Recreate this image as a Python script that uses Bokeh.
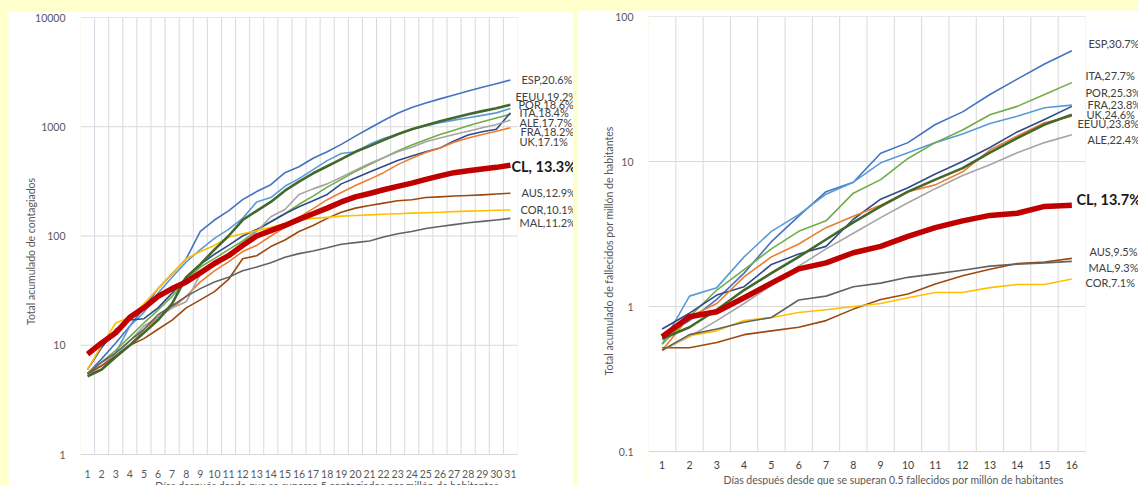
import math
from bokeh.plotting import figure
from bokeh.layouts import row
from bokeh.models import Range1d, FixedTicker, CustomJSTickFormatter, Label, BoxAnnotation
from bokeh.embed import file_html
from bokeh.resources import INLINE

# ---------------- data: contagiados (left) ----------------
days_c = list(range(1, 32))
esp_c = [5.5, 7.5, 10.5, 15, 22, 33, 45, 62, 110, 140, 170, 215, 255, 295, 380, 430, 515, 590, 690, 820, 970, 1140, 1330, 1500, 1650, 1800, 1950, 2120, 2300, 2480, 2680]
eeuu_c = [5.2, 6.0, 7.8, 10, 13, 17, 24, 42, 55, 75, 100, 140, 170, 205, 260, 315, 375, 435, 505, 590, 665, 755, 855, 950, 1030, 1120, 1210, 1300, 1390, 1480, 1590]
por_c = [5.5, 6.0, 8.5, 15, 20, 30, 42, 58, 75, 95, 115, 145, 205, 225, 285, 335, 405, 490, 570, 590, 690, 780, 860, 950, 1020, 1090, 1150, 1210, 1270, 1340, 1470]
ita_c = [5.5, 7, 9, 12, 16, 21, 28, 40, 52, 62, 75, 90, 112, 135, 160, 195, 232, 280, 330, 390, 450, 520, 600, 680, 760, 850, 930, 1020, 1110, 1200, 1300]
uk_c = [6, 9.5, 14, 17, 17.5, 22, 30, 42, 55, 68, 82, 100, 115, 135, 160, 185, 210, 240, 300, 340, 385, 435, 490, 540, 590, 640, 740, 840, 900, 950, 1340]
fra_c = [5.5, 6.5, 8, 10, 14, 18, 22, 28, 38, 48, 58, 72, 82, 100, 120, 148, 178, 215, 250, 290, 330, 380, 450, 515, 580, 640, 720, 790, 850, 910, 980]
ale_c = [5.5, 7, 8, 11, 15, 18, 22, 25, 45, 55, 68, 85, 110, 150, 175, 240, 270, 300, 345, 400, 460, 520, 590, 650, 730, 790, 850, 910, 980, 1050, 1150]
cl_c = [8.3, 10.5, 13, 18, 22, 28, 33, 38, 46, 56, 66, 82, 100, 112, 125, 142, 160, 180, 205, 228, 245, 265, 285, 305, 330, 355, 380, 395, 410, 425, 445]
aus_c = [5.5, 6.5, 8, 10, 11.5, 14, 17, 22, 26, 31, 40, 62, 66, 80, 92, 110, 125, 145, 165, 180, 190, 200, 210, 215, 225, 228, 232, 235, 238, 242, 246]
cor_c = [6, 10, 16, 18, 24, 33, 45, 62, 72, 82, 98, 105, 112, 120, 130, 140, 145, 148, 152, 154, 156, 158, 160, 162, 163, 165, 167, 169, 170, 172, 173]
mal_c = [5.5, 7, 8.5, 11, 14, 19, 23, 28, 33, 38, 42, 48, 52, 57, 64, 69, 73, 78, 84, 87, 90, 98, 105, 110, 117, 122, 127, 132, 136, 140, 145]
labels_c = ["ESP,20.6%", "EEUU,19.2%", "POR,18.6%", "ITA,18.4%", "ALE,17.7%", "FRA,18.2%", "UK,17.1%", "CL, 13.3%", "AUS,12.9%", "COR,10.1%", "MAL,11.2%"]
yticks_c = [1, 10, 100, 1000, 10000]

# ---------------- data: fallecidos (right) ----------------
days_f = list(range(1, 17))
esp_f = [0.62, 0.8, 1.12, 1.7, 2.8, 4.2, 6.2, 7.2, 11.4, 13.5, 18, 22, 29, 37, 47, 58]
por_f = [0.55, 1.18, 1.35, 2.2, 3.3, 4.3, 5.95, 7.2, 9.8, 11.5, 13.5, 15.5, 18.3, 20.5, 23.5, 24.5]
ita_f = [0.55, 0.85, 1.3, 1.8, 2.5, 3.3, 3.9, 6.05, 7.5, 10.5, 13.5, 16.5, 21, 24, 29, 35]
uk_f = [0.7, 0.9, 1.2, 1.37, 1.95, 2.3, 2.6, 4.0, 5.5, 6.6, 8.2, 10, 12.5, 16, 19.5, 24]
fra_f = [0.5, 0.85, 1.05, 1.6, 2.2, 2.7, 3.5, 4.2, 5.0, 6.2, 6.9, 8.5, 12, 15, 18.5, 20.5]
eeuu_f = [0.6, 0.72, 0.95, 1.3, 1.7, 2.2, 2.9, 3.8, 4.9, 6.2, 7.5, 9, 11.5, 14.5, 18, 21]
ale_f = [0.5, 0.62, 0.8, 1.05, 1.4, 1.9, 2.5, 3.2, 4.1, 5.2, 6.5, 8, 9.5, 11.5, 13.5, 15.3]
cl_f = [0.62, 0.85, 0.92, 1.15, 1.45, 1.82, 2.0, 2.35, 2.6, 3.05, 3.5, 3.9, 4.25, 4.4, 4.9, 5.0]
aus_f = [0.52, 0.52, 0.565, 0.64, 0.68, 0.72, 0.8, 0.96, 1.12, 1.22, 1.43, 1.63, 1.81, 1.98, 2.03, 2.15]
mal_f = [0.5, 0.64, 0.70, 0.78, 0.84, 1.11, 1.18, 1.37, 1.45, 1.59, 1.68, 1.78, 1.9, 1.96, 2.0, 2.05]
cor_f = [0.5, 0.63, 0.68, 0.80, 0.84, 0.91, 0.95, 1.0, 1.05, 1.15, 1.25, 1.25, 1.35, 1.42, 1.42, 1.55]
labels_f = ["ESP,30.7%", "ITA,27.7%", "POR,25.3%", "FRA,23.8%", "UK,24.6%", "EEUU,23.8%", "ALE,22.4%", "CL, 13.7%", "AUS,9.5%", "MAL,9.3%", "COR,7.1%"]
yticks_f = [0.1, 1, 10, 100]

# ---------------- styles ----------------
FONT = "Lato"
COL = {"ESP": "#4472C4", "EEUU": "#43682B", "POR": "#5B9BD5", "ITA": "#70AD47", "UK": "#2F4B8C",
       "FRA": "#ED7D31", "ALE": "#A5A5A5", "CL": "#C00000", "AUS": "#9E480E", "COR": "#FFC000", "MAL": "#636363"}
WID = {"EEUU": 2.6, "CL": 5.5}
ORDER = ["ESP", "POR", "ITA", "UK", "FRA", "ALE", "AUS", "COR", "MAL", "EEUU", "CL"]
GRID = "#D9D9D9"

series_c = {"ESP": esp_c, "EEUU": eeuu_c, "POR": por_c, "ITA": ita_c, "UK": uk_c, "FRA": fra_c,
            "ALE": ale_c, "CL": cl_c, "AUS": aus_c, "COR": cor_c, "MAL": mal_c}
series_f = {"ESP": esp_f, "EEUU": eeuu_f, "POR": por_f, "ITA": ita_f, "UK": uk_f, "FRA": fra_f,
            "ALE": ale_f, "CL": cl_f, "AUS": aus_f, "COR": cor_f, "MAL": mal_f}

# label placement (data y, pixel x offset from plot-area right edge)
lab_pos_c = [(2718, 4), (1911, -2), (1606, 1), (1356, 2), (1105, 2), (901, 3), (730, 2), (437, -6), (249, 4), (173, 3), (133, 2)]
lab_pos_f = [(65.5, 3), (39.4, 0), (29.8, 0), (24.6, 2), (21.1, 1), (18.2, -8), (14.2, 2), (5.47, -9), (2.41, 4), (1.87, 3), (1.47, 0)]


def make(days, series, labels, lab_pos, yticks, ylo, yhi, ytitle, xtitle, w, h,
         left, top, bottom, area_w, margin, xlab_std, xtitle_std, ytitle_std, xlab_color):
    n = len(days)
    unit = area_w / n                       # pixels per category
    area_h = h - top - bottom
    x0 = days[0] - 0.5
    x_area_end = days[-1] + 0.5
    # the frame reaches the figure's right and bottom edges, leaving room for the labels
    x_end = x0 + (w - left) / unit
    y_start = ylo * 10 ** (-bottom * math.log10(yhi / ylo) / area_h)
    p = figure(width=w, height=h, output_backend="svg", toolbar_location=None,
               x_range=Range1d(x0, x_end), y_range=Range1d(y_start, yhi),
               y_axis_type="log", min_border_left=left, min_border_right=0,
               min_border_top=top, min_border_bottom=0)
    p.margin = margin
    p.background_fill_color = "white"
    p.border_fill_color = "white"
    p.outline_line_color = None

    p.xaxis.ticker = FixedTicker(ticks=days)
    p.yaxis.ticker = FixedTicker(ticks=yticks)
    p.yaxis.formatter = CustomJSTickFormatter(code="return String(tick);")
    for ax in (p.xaxis[0], p.yaxis[0]):
        ax.axis_line_color = None
        ax.major_tick_line_color = None
        ax.minor_tick_line_color = None
        ax.major_label_text_font = FONT
        ax.major_label_text_font_size = "10.5px"
        ax.major_label_text_color = "#595959"
        ax.axis_label_text_font = FONT
        ax.axis_label_text_font_size = "10.5px"
        ax.axis_label_text_font_style = "normal"
        ax.axis_label_text_color = "#595959"
    p.xaxis.major_label_text_color = xlab_color
    p.yaxis.major_label_standoff = 9
    p.yaxis.axis_label = ytitle
    p.yaxis.axis_label_standoff = ytitle_std
    p.xaxis.fixed_location = ylo
    p.xaxis.major_label_standoff = xlab_std
    p.xaxis.axis_label = xtitle
    p.xaxis.axis_label_standoff = xtitle_std

    # grids drawn only over the plot area
    p.xgrid.visible = False
    p.ygrid.visible = False
    bounds = [d + 0.5 for d in days[:-1]]
    p.segment(x0=bounds, x1=bounds, y0=[ylo] * len(bounds), y1=[yhi] * len(bounds),
              line_color=GRID, line_width=1)
    p.segment(x0=[x0] * len(yticks), x1=[x_area_end] * len(yticks), y0=yticks, y1=yticks,
              line_color=GRID, line_width=1)
    p.add_layout(BoxAnnotation(left=x0, right=x_area_end, bottom=ylo, top=yhi,
                               fill_alpha=0, line_color=GRID, line_width=1))

    for k in ORDER:
        p.line(days, series[k], line_color=COL[k], line_width=WID.get(k, 1.6), line_join="round")

    for txt, (yv, xo) in zip(labels, lab_pos):
        bold = txt.startswith("CL")
        p.add_layout(Label(x=x_area_end, y=yv, x_offset=xo, text=txt, text_font=FONT,
                           text_font_size="14.5px" if bold else "11px",
                           text_font_style="bold" if bold else "normal",
                           text_color="#1a1a1a" if bold else "#404040",
                           text_baseline="middle", text_align="left"))
    return p


p1 = make(days_c, series_c, labels_c, lab_pos_c, yticks_c, 1, 10000,
          "Total acumulado de contagiados",
          "Días después desde que se superan 5 contagiados por millón de habitantes",
          565, 474, 72, 6, 31, 437, (11, 0, 0, 8), 9, -1, -5, "#595959")
p2 = make(days_f, series_f, labels_f, lab_pos_f, yticks_f, 0.1, 100,
          "Total acumulado de fallecidos por millón de habitantes",
          "Días después desde que se superan 0.5 fallecidos por millón de habitantes",
          561, 475, 71, 5, 34, 437, (10, 0, 0, 4), 3, 2, -3, "#404040")

layout = row(p1, p2, spacing=0, styles={"background-color": "#FFFFCC"})

open("out.html", "w").write(file_html(layout, INLINE))
